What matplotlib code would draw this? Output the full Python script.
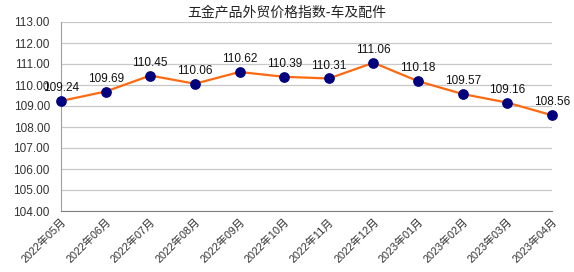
import matplotlib
matplotlib.use('Agg')
import matplotlib.pyplot as plt

plt.rcParams['font.family'] = ['Liberation Sans', 'Noto Sans CJK SC', 'DejaVu Sans']

# data
months = ['2022年05月', '2022年06月', '2022年07月', '2022年08月', '2022年09月', '2022年10月',
          '2022年11月', '2022年12月', '2023年01月', '2023年02月', '2023年03月', '2023年04月']
values = [109.24, 109.69, 110.45, 110.06, 110.62, 110.39,
          110.31, 111.06, 110.18, 109.57, 109.16, 108.56]
yticks = [104, 105, 106, 107, 108, 109, 110, 111, 112, 113]

fig = plt.figure(figsize=(5.74, 2.72), dpi=100)
ax = fig.add_axes([61 / 574, 1 - 211 / 272, (552 - 61) / 574, (211 - 22) / 272])

x = list(range(len(values)))
ax.plot(x, values, color='#FF6A10', linewidth=1.6, zorder=3, clip_on=False)
ax.scatter(x, values, s=45, color='#00007F', zorder=4, clip_on=False)

for xi, v in zip(x, values):
    ax.annotate(f'{v:.2f}', (xi, v), xytext=(0, 5), textcoords='offset points',
                ha='center', va='bottom', fontsize=8.5, color='#111111')

ax.set_xlim(0, len(values) - 1)
ax.set_ylim(104, 113)
ax.set_yticks(yticks)
ax.set_yticklabels([f'{t:.2f}' for t in yticks], fontsize=8.5, color='#333333')
ax.tick_params(axis='y', length=0, pad=8)
ax.set_xticks(x)
ax.set_xticklabels(months, rotation=45, ha='right', rotation_mode='anchor', fontsize=7.8, color='#333333')
ax.tick_params(axis='x', length=0, pad=4)

ax.grid(axis='y', color='#C8C8C8', linewidth=0.9)
ax.set_axisbelow(True)
for side in ['top', 'right']:
    ax.spines[side].set_visible(False)
ax.spines['left'].set_color('#A0A0A0')
ax.spines['bottom'].set_color('#808080')

fig.text(0.5, 1 - 12 / 272, '五金产品外贸价格指数-车及配件', ha='center', va='center',
         fontsize=10, color='#222222', family=['Noto Sans CJK SC', 'DejaVu Sans'])

fig.savefig('out.png', dpi=100)
